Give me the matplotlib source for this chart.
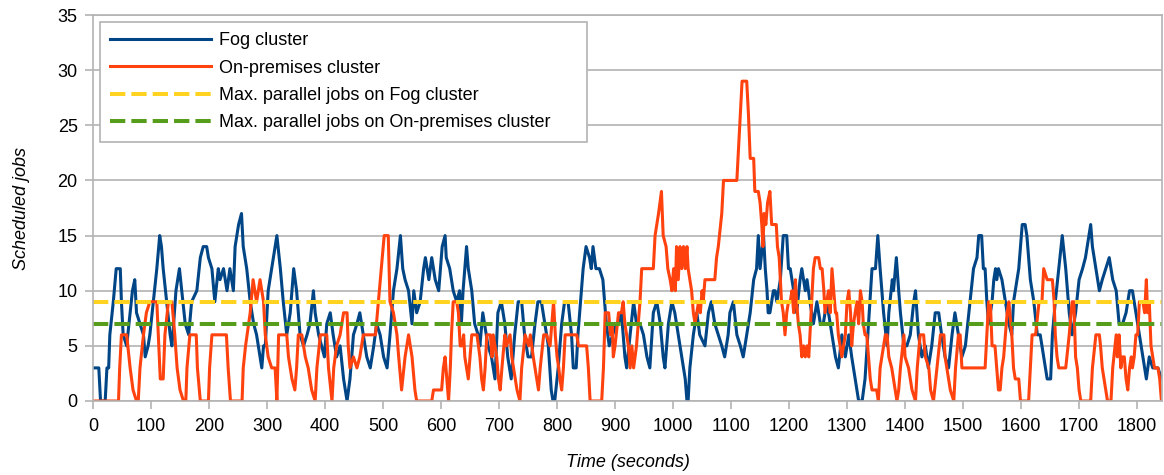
import numpy as np
import matplotlib.pyplot as plt

plt.rcParams['font.family'] = ['Liberation Sans', 'DejaVu Sans']

# Fog cluster: scheduled jobs over time
fog_t = [0, 10, 13, 21, 24, 27, 29, 35, 40, 47, 49, 52, 58, 64, 68, 72, 75, 81, 87, 90,
         95, 98, 104, 110, 115, 118, 121, 127, 133, 136, 139, 143, 149, 153, 159, 165, 170, 179, 185, 190,
         196, 199, 205, 210, 216, 219, 225, 231, 236, 242, 245, 251, 256, 259, 265, 271, 277, 282, 288, 291,
         294, 297, 302, 308, 314, 317, 323, 328, 334, 340, 346, 351, 357, 363, 369, 374, 380, 383, 389, 394,
         399, 403, 409, 414, 420, 426, 432, 438, 443, 449, 455, 460, 466, 472, 478, 484, 489, 495, 501, 507,
         512, 518, 524, 530, 534, 538, 544, 550, 553, 558, 564, 570, 573, 579, 584, 590, 596, 602, 607, 609,
         615, 621, 627, 632, 635, 638, 644, 647, 653, 658, 664, 667, 672, 675, 681, 687, 693, 698, 704, 710,
         715, 721, 727, 733, 739, 744, 750, 756, 762, 767, 773, 779, 785, 790, 793, 796, 802, 808, 813, 819,
         825, 828, 833, 836, 842, 845, 850, 856, 859, 862, 867, 873, 879, 882, 885, 890, 896, 902, 906, 911,
         917, 920, 926, 932, 937, 943, 949, 955, 960, 966, 972, 978, 983, 986, 992, 998, 1003, 1009, 1015, 1021,
         1024, 1026, 1029, 1035, 1041, 1046, 1055, 1061, 1066, 1072, 1078, 1084, 1089, 1095, 1098, 1104, 1110, 1116, 1121, 1127,
         1133, 1139, 1144, 1147, 1150, 1156, 1159, 1162, 1164, 1167, 1173, 1176, 1179, 1185, 1190, 1196, 1199, 1202, 1208, 1213,
         1219, 1222, 1228, 1231, 1236, 1242, 1248, 1254, 1259, 1265, 1271, 1274, 1280, 1285, 1291, 1297, 1303, 1308, 1314, 1320,
         1326, 1331, 1337, 1343, 1349, 1353, 1357, 1363, 1369, 1372, 1378, 1380, 1385, 1389, 1392, 1398, 1403, 1409, 1415, 1418,
         1423, 1429, 1435, 1440, 1446, 1452, 1458, 1463, 1469, 1475, 1481, 1486, 1492, 1498, 1504, 1506, 1512, 1518, 1524, 1527,
         1532, 1535, 1538, 1541, 1544, 1550, 1553, 1556, 1558, 1561, 1567, 1573, 1579, 1584, 1587, 1590, 1596, 1602, 1607, 1610,
         1616, 1622, 1628, 1633, 1639, 1645, 1651, 1654, 1659, 1665, 1671, 1677, 1683, 1688, 1694, 1700, 1706, 1711, 1717, 1720,
         1723, 1729, 1735, 1740, 1746, 1752, 1758, 1764, 1769, 1775, 1781, 1787, 1792, 1798, 1804, 1810, 1816, 1821, 1827, 1836,
         1842]
fog_jobs = [3, 3, 0, 0, 3, 3, 6, 9, 12, 12, 9, 6, 5, 8, 10, 11, 8, 7, 6, 4,
            5, 6, 9, 12, 15, 14, 12, 9, 6, 5, 7, 10, 12, 10, 7, 6, 9, 10, 13, 14,
            14, 13, 12, 9, 12, 11, 12, 10, 12, 10, 14, 16, 17, 14, 12, 9, 7, 6, 4, 3,
            5, 5, 10, 12, 14, 15, 12, 9, 6, 8, 12, 10, 6, 5, 6, 7, 10, 8, 6, 5,
            4, 7, 8, 6, 4, 5, 2, 0, 2, 6, 7, 8, 6, 4, 3, 5, 7, 6, 4, 3,
            6, 10, 12, 15, 12, 11, 10, 7, 10, 8, 9, 12, 13, 11, 13, 11, 10, 14, 15, 13,
            12, 10, 9, 10, 7, 10, 14, 12, 10, 7, 6, 5, 8, 7, 5, 4, 2, 8, 9, 7,
            4, 2, 6, 9, 9, 6, 4, 4, 7, 9, 9, 7, 5, 1, 0, 0, 3, 7, 9, 9,
            6, 3, 3, 6, 10, 12, 14, 13, 12, 14, 12, 12, 11, 9, 7, 5, 6, 7, 7, 8,
            4, 3, 6, 9, 7, 7, 6, 4, 3, 8, 9, 7, 4, 3, 7, 9, 8, 6, 4, 2,
            0, 0, 3, 6, 8, 6, 5, 8, 9, 7, 6, 5, 4, 6, 8, 9, 6, 5, 4, 6,
            8, 11, 12, 15, 12, 15, 12, 10, 8, 8, 10, 10, 9, 11, 15, 15, 12, 12, 10, 8,
            11, 12, 10, 11, 9, 7, 9, 7, 7, 9, 7, 6, 4, 3, 6, 4, 6, 4, 2, 0,
            0, 2, 7, 12, 12, 15, 12, 8, 5, 8, 11, 10, 13, 10, 8, 5, 5, 6, 9, 10,
            6, 4, 5, 3, 5, 8, 8, 6, 4, 3, 6, 8, 6, 4, 5, 6, 9, 12, 13, 15,
            15, 12, 12, 9, 7, 9, 11, 12, 11, 12, 11, 9, 7, 6, 9, 10, 12, 16, 16, 15,
            11, 9, 6, 6, 4, 2, 2, 6, 9, 12, 15, 12, 8, 6, 8, 11, 12, 13, 15, 16,
            14, 12, 10, 11, 12, 13, 11, 10, 7, 7, 8, 10, 10, 8, 6, 4, 2, 4, 3, 3,
            2]

# On-premises cluster: scheduled jobs over time
onprem_t = [0, 44, 46, 49, 58, 64, 69, 75, 78, 81, 87, 92, 98, 110, 116, 121, 124, 130, 136, 141,
            145, 150, 156, 160, 162, 167, 178, 180, 185, 199, 201, 205, 230, 233, 237, 257, 259, 263, 271, 276,
            282, 288, 294, 297, 302, 308, 314, 317, 320, 334, 337, 343, 348, 351, 354, 360, 366, 371, 377, 383,
            386, 392, 403, 406, 412, 415, 420, 426, 432, 438, 440, 443, 449, 455, 460, 466, 481, 487, 492, 497,
            502, 509, 512, 518, 524, 527, 532, 538, 544, 550, 555, 558, 584, 587, 601, 604, 607, 610, 613, 616,
            618, 621, 627, 630, 633, 636, 639, 641, 644, 647, 650, 653, 662, 667, 670, 673, 676, 679, 685, 688,
            690, 696, 699, 702, 705, 710, 713, 719, 722, 725, 731, 736, 739, 745, 751, 754, 759, 765, 768, 771,
            777, 782, 788, 794, 797, 800, 803, 805, 808, 811, 814, 834, 837, 851, 854, 857, 877, 880, 883, 889,
            892, 895, 897, 900, 906, 911, 914, 917, 920, 923, 926, 929, 932, 937, 940, 943, 946, 966, 969, 975,
            980, 983, 988, 991, 995, 998, 1001, 1004, 1006, 1009, 1012, 1015, 1018, 1021, 1024, 1026, 1032, 1035, 1038, 1041,
            1044, 1047, 1050, 1052, 1055, 1072, 1075, 1078, 1084, 1087, 1110, 1113, 1116, 1119, 1127, 1130, 1133, 1139, 1141, 1147,
            1150, 1153, 1155, 1157, 1160, 1163, 1167, 1170, 1178, 1180, 1183, 1187, 1190, 1193, 1196, 1199, 1202, 1205, 1208, 1211,
            1213, 1216, 1219, 1222, 1225, 1228, 1231, 1234, 1236, 1239, 1242, 1245, 1251, 1254, 1257, 1260, 1262, 1265, 1268, 1271,
            1274, 1277, 1280, 1282, 1285, 1288, 1291, 1297, 1300, 1303, 1306, 1308, 1311, 1314, 1317, 1320, 1323, 1326, 1328, 1331,
            1334, 1337, 1340, 1343, 1351, 1354, 1357, 1360, 1366, 1369, 1372, 1377, 1383, 1386, 1389, 1392, 1398, 1400, 1406, 1412,
            1418, 1421, 1426, 1432, 1435, 1441, 1444, 1449, 1455, 1461, 1467, 1469, 1472, 1478, 1484, 1487, 1492, 1495, 1498, 1503,
            1538, 1541, 1544, 1547, 1550, 1555, 1558, 1561, 1564, 1567, 1570, 1573, 1576, 1579, 1584, 1587, 1590, 1596, 1599, 1613,
            1616, 1619, 1625, 1631, 1636, 1639, 1645, 1654, 1657, 1659, 1662, 1665, 1677, 1683, 1688, 1691, 1694, 1697, 1700, 1703,
            1720, 1723, 1729, 1735, 1737, 1740, 1743, 1749, 1755, 1758, 1764, 1766, 1769, 1772, 1775, 1778, 1781, 1784, 1787, 1790,
            1792, 1795, 1798, 1801, 1804, 1810, 1813, 1816, 1818, 1821, 1824, 1827, 1830, 1836, 1839, 1842]
onprem_jobs = [0, 0, 3, 6, 6, 3, 1, 0, 0, 3, 6, 8, 9, 9, 2, 2, 6, 9, 9, 6,
               3, 1, 0, 0, 3, 6, 6, 3, 0, 0, 3, 6, 6, 3, 0, 0, 3, 5, 8, 11,
               9, 11, 9, 6, 4, 3, 3, 0, 6, 6, 4, 2, 1, 3, 6, 6, 4, 3, 1, 0,
               3, 6, 6, 3, 0, 3, 5, 6, 8, 8, 5, 3, 4, 3, 4, 6, 6, 6, 9, 12,
               15, 15, 9, 8, 6, 4, 1, 4, 6, 4, 1, 0, 0, 1, 1, 3, 4, 2, 0, 3,
               6, 9, 9, 8, 5, 5, 6, 4, 3, 2, 4, 6, 6, 4, 2, 1, 3, 6, 6, 4,
               6, 4, 2, 1, 3, 6, 5, 6, 4, 3, 1, 0, 3, 6, 5, 6, 4, 2, 1, 3,
               6, 6, 5, 9, 6, 4, 3, 2, 1, 3, 6, 6, 5, 5, 3, 0, 0, 3, 8, 8,
               6, 7, 4, 5, 8, 8, 9, 7, 6, 5, 3, 5, 3, 5, 7, 9, 12, 12, 15, 17,
               19, 15, 14, 12, 11, 10, 12, 10, 14, 11, 14, 12, 14, 12, 14, 12, 10, 8, 7, 8,
               9, 8, 10, 9, 11, 11, 13, 14, 17, 20, 20, 23, 26, 29, 29, 26, 22, 22, 19, 19,
               18, 16, 14, 17, 16, 18, 19, 16, 16, 14, 13, 9, 8, 6, 8, 9, 9, 10, 8, 11,
               9, 7, 6, 4, 5, 4, 5, 4, 6, 9, 12, 13, 13, 12, 12, 10, 8, 9, 10, 8,
               12, 10, 8, 8, 6, 5, 4, 6, 9, 10, 8, 5, 7, 8, 9, 7, 10, 9, 7, 6,
               6, 4, 2, 1, 1, 0, 3, 4, 6, 6, 4, 3, 1, 0, 1, 3, 6, 4, 3, 1,
               0, 3, 6, 6, 4, 3, 1, 0, 3, 6, 6, 4, 3, 1, 0, 3, 6, 6, 3, 3,
               3, 6, 9, 9, 5, 5, 3, 1, 1, 3, 4, 6, 8, 9, 6, 3, 2, 2, 0, 0,
               3, 6, 6, 9, 9, 12, 11, 11, 9, 6, 4, 3, 3, 6, 9, 9, 4, 3, 1, 0,
               0, 3, 6, 6, 5, 3, 2, 0, 0, 3, 6, 4, 6, 3, 4, 4, 2, 1, 3, 4,
               3, 4, 6, 6, 9, 9, 8, 11, 8, 9, 5, 4, 3, 3, 2, 0]

fog_max = 9
onprem_max = 7

fig = plt.figure(figsize=(11.64, 4.75), dpi=100)
ax = fig.add_axes([0.0799, 0.1558, 0.9184, 0.8126])

grey = '#b3b3b3'
ax.set_axisbelow(True)
ax.yaxis.grid(True, color=grey, linewidth=1.2)

ax.plot(fog_t, fog_jobs, color='#004586', linewidth=2.2, label='Fog cluster')
ax.plot(onprem_t, onprem_jobs, color='#ff420e', linewidth=2.2, label='On-premises cluster')
ax.axhline(fog_max, color='#ffd320', linewidth=2.9, dashes=(3.8, 1.5),
           label='Max. parallel jobs on Fog cluster')
ax.axhline(onprem_max, color='#579d1c', linewidth=2.9, dashes=(3.8, 1.5),
           label='Max. parallel jobs on On-premises cluster')

ax.set_xlim(0, 1843)
ax.set_ylim(0, 35)
ax.set_xticks(np.arange(0, 1801, 100))
ax.set_yticks(np.arange(0, 36, 5))
for s in ax.spines.values():
    s.set_color(grey)
    s.set_linewidth(1.2)
ax.tick_params(colors=grey, labelcolor='black', labelsize=13, length=6, width=1.2)
ax.tick_params(axis='y', pad=5)
ax.tick_params(axis='x', pad=6)

ax.set_xlabel('Time (seconds)', fontsize=13, style='italic', labelpad=14)
ax.set_ylabel('Scheduled jobs', fontsize=13, style='italic', labelpad=20)

leg = ax.legend(loc='upper left', bbox_to_anchor=(0.0065, 0.0, 0.4556, 0.982), mode='expand',
                borderaxespad=0, fontsize=13, frameon=True, fancybox=False, handlelength=5.6,
                handletextpad=0.45, labelspacing=0.58, borderpad=0.56)
leg.get_frame().set_edgecolor(grey)
leg.get_frame().set_linewidth(1.2)
leg.get_frame().set_alpha(1)

fig.savefig('out.png', dpi=100)
